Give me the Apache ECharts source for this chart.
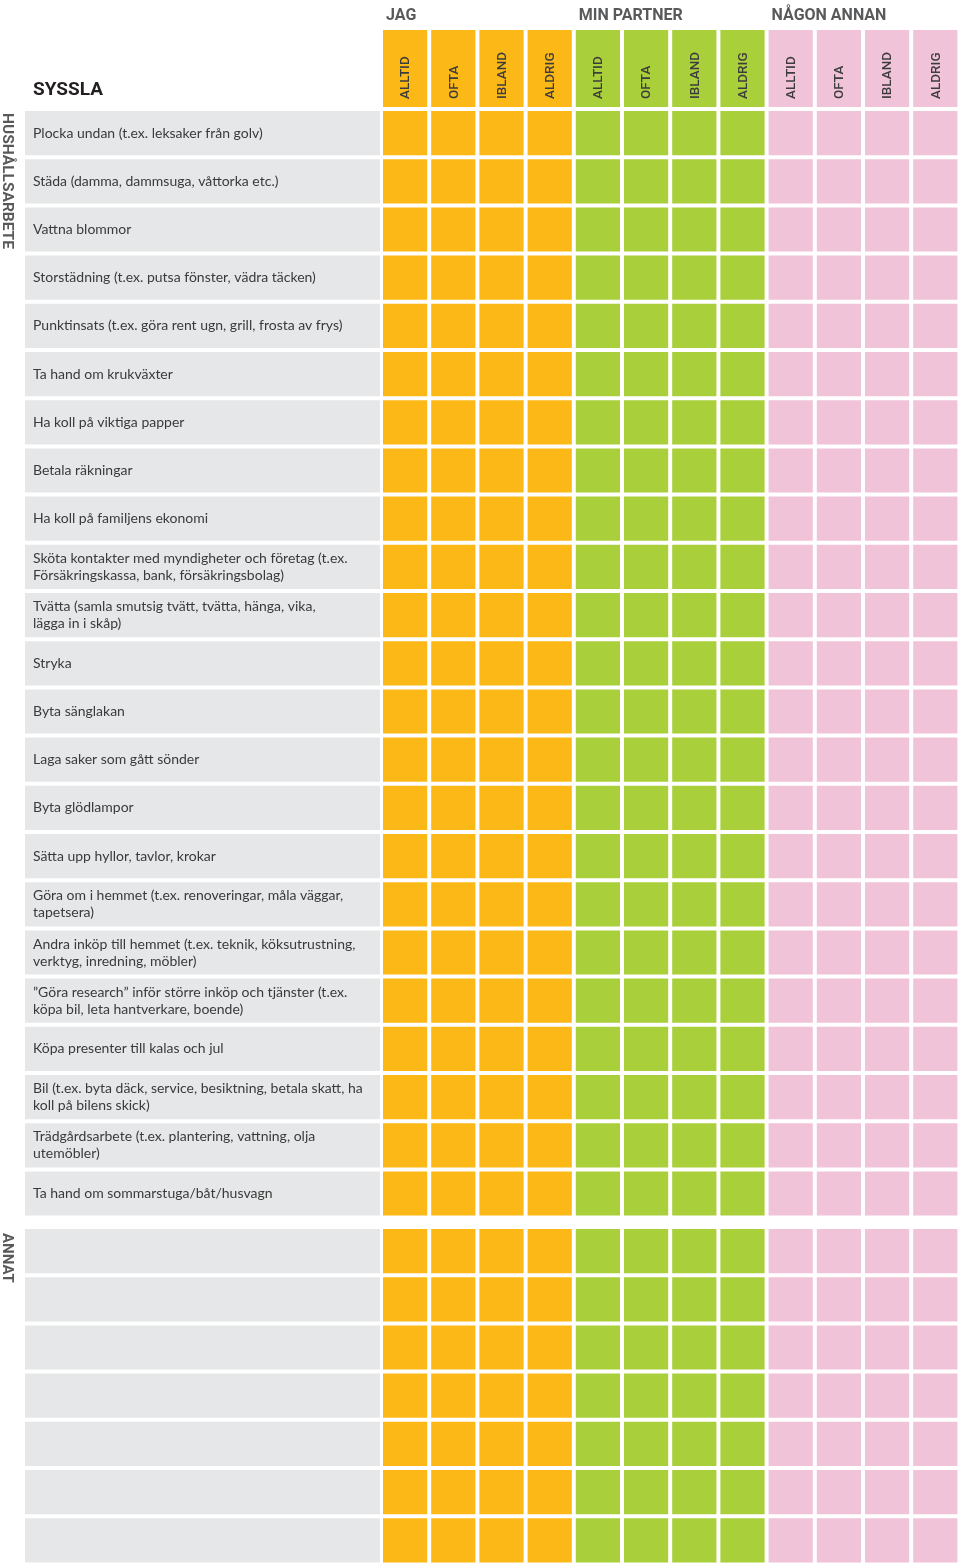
<!DOCTYPE html>
<html>
<head>
<meta charset="utf-8">
<script src="https://cdn.jsdelivr.net/npm/echarts@6/dist/echarts.min.js"></script>
<style>
  html, body { margin: 0; padding: 0; background: #fff; }
  #chart { width: 960px; height: 1566px; }
</style>
</head>
<body>
<div id="chart"></div>
<script>
// vem gör vad - tomt formulär
const respondents = ['JAG', 'MIN PARTNER', 'NÅGON ANNAN'];
const frequencies = ['ALLTID', 'OFTA', 'IBLAND', 'ALDRIG'];
const sections = ['HUSHÅLLSARBETE', 'ANNAT'];
const householdTasks = [
  'Plocka undan (t.ex. leksaker från golv)',
  'Städa (damma, dammsuga, våttorka etc.)',
  'Vattna blommor',
  'Storstädning (t.ex. putsa fönster, vädra täcken)',
  'Punktinsats (t.ex. göra rent ugn, grill, frosta av frys)',
  'Ta hand om krukväxter',
  'Ha koll på viktiga papper',
  'Betala räkningar',
  'Ha koll på familjens ekonomi',
  'Sköta kontakter med myndigheter och företag (t.ex.\nFörsäkringskassa, bank, försäkringsbolag)',
  'Tvätta (samla smutsig tvätt, tvätta, hänga, vika,\nlägga in i skåp)',
  'Stryka',
  'Byta sänglakan',
  'Laga saker som gått sönder',
  'Byta glödlampor',
  'Sätta upp hyllor, tavlor, krokar',
  'Göra om i hemmet (t.ex. renoveringar, måla väggar,\ntapetsera)',
  'Andra inköp till hemmet (t.ex. teknik, köksutrustning,\nverktyg, inredning, möbler)',
  '”Göra research” inför större inköp och tjänster (t.ex.\nköpa bil, leta hantverkare, boende)',
  'Köpa presenter till kalas och jul',
  'Bil (t.ex. byta däck, service, besiktning, betala skatt, ha\nkoll på bilens skick)',
  'Trädgårdsarbete (t.ex. plantering, vattning, olja\nutemöbler)',
  'Ta hand om sommarstuga/båt/husvagn'
];
const otherTasks = ['', '', '', '', '', '', ''];

const columns = respondents.flatMap(r => frequencies.map(f => r + ' ' + f));

const groupColors = ['#fbb817', '#a9cf3a', '#f0c3d9'];
const barColor = '#e6e7e8';
const PITCH = 48.2;
const CELL_LEFT = 381;
const LABEL_LEFT = 25;
const LABEL_WIDTH = 355;
const HH_TOP = 109;
const AN_TOP = 1227;

const chart = echarts.init(document.getElementById('chart'));

function cellRender(params, api) {
  const c = api.coord([api.value(0), api.value(1)]);
  const s = api.size([1, 1]);
  return {
    type: 'rect',
    shape: { x: c[0] - s[0] / 2 + 2, y: c[1] - s[1] / 2 + 2, width: s[0] - 4, height: s[1] - 4 },
    style: { fill: groupColors[Math.floor(api.value(0) / frequencies.length)] }
  };
}

function barRender(params, api) {
  const c = api.coord([api.value(0), api.value(1)]);
  const s = api.size([1, 1]);
  return {
    type: 'rect',
    shape: { x: c[0] - s[0] / 2, y: c[1] - s[1] / 2 + 2, width: s[0], height: s[1] - 4 },
    style: { fill: barColor }
  };
}

function headRender(params, api) {
  const i = api.value(0);
  const c = api.coord([i, 0]);
  const s = api.size([1, 1]);
  return {
    type: 'group',
    children: [
      {
        type: 'rect',
        shape: { x: c[0] - s[0] / 2 + 2, y: c[1] - s[1] / 2, width: s[0] - 4, height: s[1] },
        style: { fill: groupColors[Math.floor(i / frequencies.length)] }
      },
      {
        type: 'text',
        x: c[0] + 1,
        y: c[1] + s[1] / 2 - 8,
        rotation: Math.PI / 2,
        style: {
          text: frequencies[i % frequencies.length],
          fill: '#3c3c3c',
          fontFamily: 'Roboto',
          fontWeight: 500,
          fontSize: 13.5,
          align: 'left',
          verticalAlign: 'middle'
        }
      }
    ]
  };
}

function groupRender(params, api) {
  const i = api.value(0);
  const c = api.coord([i * frequencies.length, 0]);
  const s = api.size([1, 1]);
  return {
    type: 'text',
    x: c[0] - s[0] / 2 + 5,
    y: c[1] - s[1] / 2 - 14,
    style: {
      text: respondents[i],
      fill: '#58595b',
      fontFamily: 'Roboto',
      fontWeight: 'bold',
      fontSize: 16,
      align: 'left',
      verticalAlign: 'middle'
    }
  };
}

const hiddenCat = (data, extra) => Object.assign({
  type: 'category', data: data, show: false
}, extra || {});

const labelAxis = (data, gridIndex) => ({
  type: 'category',
  gridIndex: gridIndex,
  data: data,
  inverse: true,
  z: 5,
  axisLine: { show: false },
  axisTick: { show: false },
  splitLine: { show: false },
  axisLabel: {
    inside: true,
    interval: 0,
    margin: 8,
    padding: [3, 0, 0, 0],
    fontFamily: 'Lato',
    fontSize: 14,
    lineHeight: 17,
    color: '#3a3a3a'
  }
});

const option = {
  animation: false,
  backgroundColor: '#ffffff',
  grid: [
    { left: CELL_LEFT, top: 30, width: PITCH * columns.length, height: 77 },
    { left: LABEL_LEFT, top: HH_TOP, width: LABEL_WIDTH, height: PITCH * householdTasks.length },
    { left: CELL_LEFT, top: HH_TOP, width: PITCH * columns.length, height: PITCH * householdTasks.length },
    { left: LABEL_LEFT, top: AN_TOP, width: LABEL_WIDTH, height: PITCH * otherTasks.length },
    { left: CELL_LEFT, top: AN_TOP, width: PITCH * columns.length, height: PITCH * otherTasks.length }
  ],
  xAxis: [
    hiddenCat(columns, { gridIndex: 0 }),
    hiddenCat(['SYSSLA'], { gridIndex: 1 }),
    hiddenCat(columns, { gridIndex: 2 }),
    hiddenCat(['SYSSLA'], { gridIndex: 3 }),
    hiddenCat(columns, { gridIndex: 4 })
  ],
  yAxis: [
    hiddenCat(['head'], { gridIndex: 0 }),
    labelAxis(householdTasks, 1),
    hiddenCat(householdTasks, { gridIndex: 2, inverse: true }),
    labelAxis(otherTasks, 3),
    hiddenCat(otherTasks, { gridIndex: 4, inverse: true })
  ],
  graphic: [
    {
      type: 'text', left: 33, top: 81,
      style: { text: 'SYSSLA', fill: '#231f20', fontFamily: 'Roboto', fontWeight: 'bold', fontSize: 19 }
    },
    {
      type: 'text', x: 7, y: 113, rotation: -Math.PI / 2,
      style: { text: sections[0], fill: '#58595b', fontFamily: 'Roboto', fontWeight: 'bold', fontSize: 15.5, align: 'left', verticalAlign: 'middle' }
    },
    {
      type: 'text', x: 7, y: 1233, rotation: -Math.PI / 2,
      style: { text: sections[1], fill: '#58595b', fontFamily: 'Roboto', fontWeight: 'bold', fontSize: 15, align: 'left', verticalAlign: 'middle' }
    }
  ],
  series: [
    {
      type: 'custom', coordinateSystem: 'cartesian2d', xAxisIndex: 0, yAxisIndex: 0, silent: true,
      renderItem: headRender, data: columns.map((c, i) => [i, 0])
    },
    {
      type: 'custom', coordinateSystem: 'cartesian2d', xAxisIndex: 0, yAxisIndex: 0, silent: true,
      renderItem: groupRender, data: respondents.map((r, i) => [i, 0])
    },
    {
      type: 'custom', coordinateSystem: 'cartesian2d', xAxisIndex: 1, yAxisIndex: 1, silent: true, z: 1,
      renderItem: barRender, data: householdTasks.map((t, i) => [0, i])
    },
    {
      type: 'custom', coordinateSystem: 'cartesian2d', xAxisIndex: 2, yAxisIndex: 2, silent: true,
      renderItem: cellRender, data: householdTasks.flatMap((t, r) => columns.map((c, i) => [i, r]))
    },
    {
      type: 'custom', coordinateSystem: 'cartesian2d', xAxisIndex: 3, yAxisIndex: 3, silent: true, z: 1,
      renderItem: barRender, data: otherTasks.map((t, i) => [0, i])
    },
    {
      type: 'custom', coordinateSystem: 'cartesian2d', xAxisIndex: 4, yAxisIndex: 4, silent: true,
      renderItem: cellRender, data: otherTasks.flatMap((t, r) => columns.map((c, i) => [i, r]))
    }
  ]
};

chart.setOption(option);
</script>
</body>
</html>
